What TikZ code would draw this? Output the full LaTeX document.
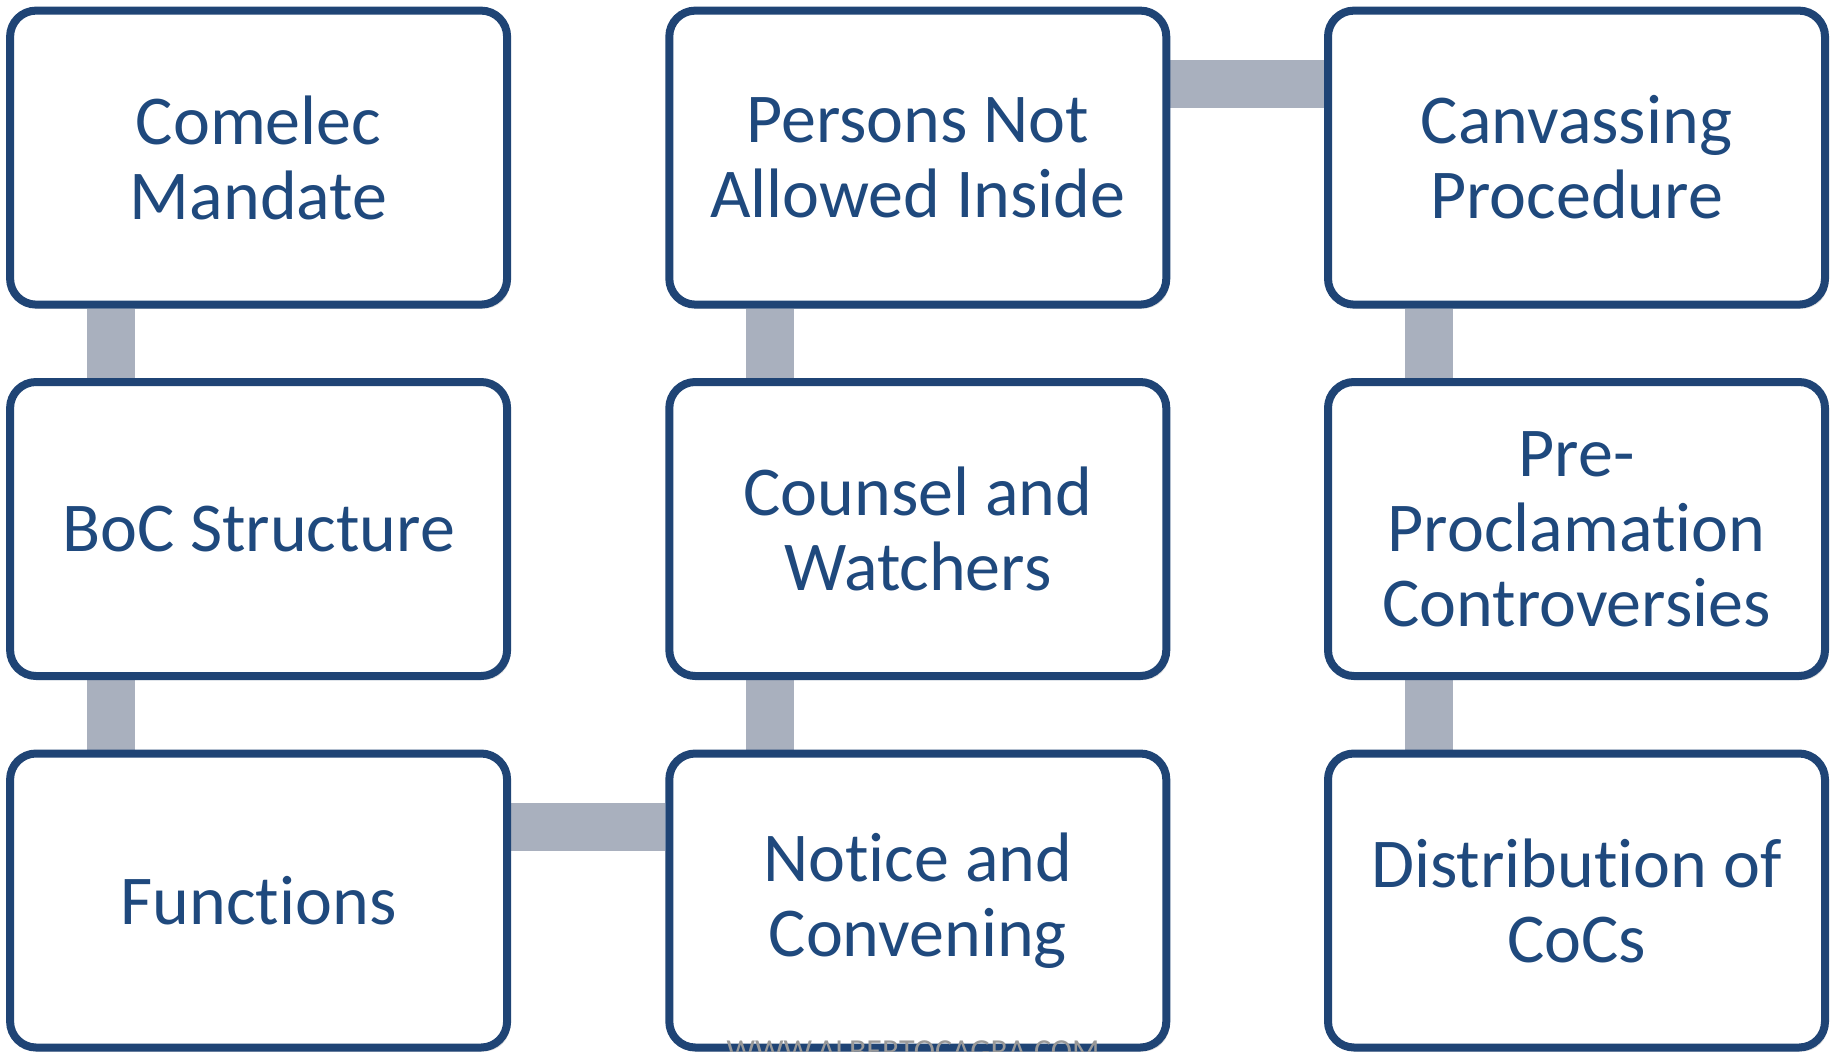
\documentclass[tikz,border=0pt]{standalone}
\usepackage{fontspec}
\setmainfont{Carlito}[Ligatures=NoCommon]
\usetikzlibrary{shadows,backgrounds}
\definecolor{boxblue}{HTML}{1F4475}
\definecolor{txtblue}{HTML}{1F497D}
\definecolor{bargray}{HTML}{A9B0BE}
\tikzset{
    topic/.style={draw=boxblue, line width=4pt, fill=white, rounded corners=13pt,
        minimum width=248.5pt, minimum height=147pt, inner sep=0pt, align=center,
        text=txtblue, font=\fontsize{35pt}{37.5pt}\selectfont,
        drop shadow={shadow xshift=1.5pt, shadow yshift=-2pt, opacity=0.25}},
    bar/.style={draw=bargray, line width=24pt}
}
\begin{document}
\begin{tikzpicture}[x=0.5pt, y=-0.5pt]
    \useasboundingbox (0,0) rectangle (1831,1051);
    % first column
    \node[topic] (mandate) at (258.6,157.6) {Comelec\\Mandate};
    \node[topic] (boc) at (258.6,529) {BoC Structure};
    \node[topic] (functions) at (258.6,900.5) {Functions};
    % second column
    \node[topic] (notice) at (917.8,900.5) {Notice and\\Convening};
    \node[topic] (counsel) at (917.8,529) {Counsel and\\Watchers};
    \node[topic] (persons) at (917.8,157.6) {Persons Not\\Allowed Inside};
    % third column
    \node[topic] (canvass) at (1576.5,157.6) {Canvassing\\Procedure};
    \node[topic] (prepro) at (1576.5,529) {Pre-\\Proclamation\\Controversies};
    \node[topic] (cocs) at (1576.5,900.5) {Distribution of\\CoCs};
    % connectors
    \begin{scope}[on background layer]
        \draw[bar] ([xshift=52.5pt]mandate.south west) -- ([xshift=52.5pt]boc.north west);
        \draw[bar] ([xshift=52.5pt]boc.south west) -- ([xshift=52.5pt]functions.north west);
        \draw[bar] ([yshift=-38.75pt]functions.north east) -- ([yshift=-38.75pt]notice.north west);
        \draw[bar] ([xshift=52.5pt]notice.north west) -- ([xshift=52.5pt]counsel.south west);
        \draw[bar] ([xshift=52.5pt]counsel.north west) -- ([xshift=52.5pt]persons.south west);
        \draw[bar] ([yshift=-38.75pt]persons.north east) -- ([yshift=-38.75pt]canvass.north west);
        \draw[bar] ([xshift=52.5pt]canvass.south west) -- ([xshift=52.5pt]prepro.north west);
        \draw[bar] ([xshift=52.5pt]prepro.south west) -- ([xshift=52.5pt]cocs.north west);
    \end{scope}
    \node[text=gray!80, font=\fontsize{16pt}{16pt}\selectfont, anchor=north] (mark) at (913,1034) {WWW.ALBERTOCAGRA.COM};
\end{tikzpicture}
\end{document}
